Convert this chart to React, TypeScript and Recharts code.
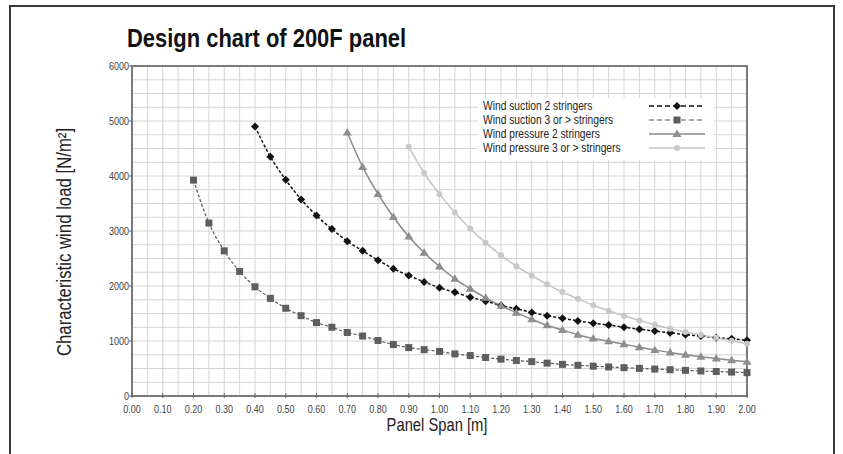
import { LineChart, Line, XAxis, YAxis, CartesianGrid, ReferenceArea, Legend } from 'recharts';

const FONT = '"Liberation Sans", Arial, sans-serif';
const SQUEEZE = 0.82; // the original uses a condensed face; squash a regular one

// panel span [m]
const spans = [
  0.2, 0.25, 0.3, 0.35, 0.4, 0.45, 0.5, 0.55, 0.6, 0.65, 0.7, 0.75, 0.8, 0.85, 0.9, 0.95, 1.0, 1.05, 1.1,
  1.15, 1.2, 1.25, 1.3, 1.35, 1.4, 1.45, 1.5, 1.55, 1.6, 1.65, 1.7, 1.75, 1.8, 1.85, 1.9, 1.95, 2.0,
];

// characteristic wind load [N/m2]
const suction2 = [
  null, null, null, null, 4900, 4350, 3930, 3575, 3280, 3035, 2815, 2640, 2470, 2315, 2190, 2075, 1970,
  1885, 1795, 1725, 1645, 1585, 1520, 1460, 1415, 1365, 1325, 1290, 1250, 1215, 1180, 1150, 1115, 1090,
  1060, 1040, 1015,
];
const suction3 = [
  3925, 3145, 2640, 2265, 1985, 1775, 1595, 1460, 1335, 1250, 1155, 1090, 1010, 935, 880, 843, 810, 765,
  735, 700, 670, 645, 625, 598, 575, 558, 542, 528, 515, 502, 490, 478, 466, 455, 445, 435, 425,
];
const pressure2 = [
  null, null, null, null, null, null, null, null, null, null, 4790, 4165, 3675, 3255, 2900, 2605, 2355,
  2130, 1950, 1785, 1640, 1515, 1395, 1285, 1200, 1115, 1045, 995, 942, 888, 838, 790, 748, 712, 680,
  652, 622,
];
const pressure3 = [
  null, null, null, null, null, null, null, null, null, null, null, null, null, null, 4530, 4055, 3670,
  3335, 3040, 2785, 2560, 2360, 2187, 2030, 1890, 1768, 1650, 1550, 1459, 1375, 1296, 1224, 1164, 1110,
  1061, 1003, 950,
];

const xTicks = [
  0, 0.05, 0.1, 0.15, 0.2, 0.25, 0.3, 0.35, 0.4, 0.45, 0.5, 0.55, 0.6, 0.65, 0.7, 0.75, 0.8, 0.85, 0.9,
  0.95, 1.0, 1.05, 1.1, 1.15, 1.2, 1.25, 1.3, 1.35, 1.4, 1.45, 1.5, 1.55, 1.6, 1.65, 1.7, 1.75, 1.8,
  1.85, 1.9, 1.95, 2.0,
];
const yTicks = [
  0, 250, 500, 750, 1000, 1250, 1500, 1750, 2000, 2250, 2500, 2750, 3000, 3250, 3500, 3750, 4000, 4250,
  4500, 4750, 5000, 5250, 5500, 5750, 6000,
];

const legendNames = [
  'Wind suction 2 stringers',
  'Wind suction 3 or > stringers',
  'Wind pressure 2 stringers',
  'Wind pressure 3 or > stringers',
];

const data = spans.map((s, i) => ({
  span: s,
  suction2: suction2[i],
  suction3: suction3[i],
  pressure2: pressure2[i],
  pressure3: pressure3[i],
}));

function marker(kind: string, cx: number, cy: number, key?: any) {
  if (kind === 'diamond')
    return <path key={key} d={`M${cx},${cy - 4}L${cx + 4},${cy}L${cx},${cy + 4}L${cx - 4},${cy}Z`} fill="#111" />;
  if (kind === 'square')
    return <rect key={key} x={cx - 3.5} y={cy - 3.5} width={7} height={7} fill="#5e5e5e" />;
  if (kind === 'triangle')
    return <path key={key} d={`M${cx},${cy - 4.5}L${cx + 4.5},${cy + 3}L${cx - 4.5},${cy + 3}Z`} fill="#8e8e8e" />;
  return <circle key={key} cx={cx} cy={cy} r={3} fill="#c8c8c8" />;
}

const makeDot = (kind: string) => (props: any) => {
  const { cx, cy, value, index } = props;
  if (value == null || cx == null || cy == null) return <g key={`e${index}`} />;
  return marker(kind, cx, cy, `d${index}`);
};

const series = [
  { key: 'suction2', kind: 'diamond', stroke: '#111', width: 1.5, dash: '3 2' },
  { key: 'suction3', kind: 'square', stroke: '#555', width: 1.2, dash: '3 2' },
  { key: 'pressure2', kind: 'triangle', stroke: '#8a8a8a', width: 1.5, dash: undefined },
  { key: 'pressure3', kind: 'circle', stroke: '#c4c4c4', width: 1.5, dash: undefined },
];

// squeezed svg text
function SText(props: any) {
  const { x, y, size, anchor = 'start', rotate, scale = SQUEEZE, fill = '#444', baseline, children } = props;
  const tf = `translate(${x},${y})${rotate ? ` rotate(${rotate})` : ''} scale(${scale},1)`;
  return (
    <g transform={tf}>
      <text x={0} y={0} textAnchor={anchor} fontSize={size} fill={fill} fontFamily={FONT} dominantBaseline={baseline}>
        {children}
      </text>
    </g>
  );
}

function XTick(props: any) {
  const { x, y, payload } = props;
  const v = payload.value as number;
  if (Math.round(v * 100) % 10 !== 0) return <g />;
  return (
    <g>
      <line x1={x} x2={x} y1={y - 3} y2={y + 2} stroke="#666" />
      <SText x={x} y={y + 17} size={11} anchor="middle">{v.toFixed(2)}</SText>
    </g>
  );
}

function YTick(props: any) {
  const { x, y, payload } = props;
  const v = payload.value as number;
  if (v % 1000 !== 0) return <g />;
  return (
    <g>
      <line x1={x - 3} x2={x} y1={y} y2={y} stroke="#666" />
      <SText x={x - 3} y={y + 4} size={11} anchor="end">{v}</SText>
    </g>
  );
}

function LegendBox() {
  return (
    <div style={{ position: 'relative', fontFamily: FONT, fontSize: 12.5, color: '#222', lineHeight: '14px', paddingTop: 1 }}>
      {series.map((s, i) => (
        <div key={s.key} style={{ position: 'relative', height: 14 }}>
          <span
            style={{
              position: 'absolute', left: 5, top: 0, whiteSpace: 'nowrap',
              transform: `scaleX(${SQUEEZE})`, transformOrigin: 'left top',
            }}
          >
            {legendNames[i]}
          </span>
          <svg width={58} height={14} style={{ position: 'absolute', left: 171, top: 0 }}>
            <line x1={0} x2={56} y1={7} y2={7} stroke={s.stroke} strokeWidth={s.width} strokeDasharray={s.dash ? '5 3' : undefined} />
            {marker(s.kind, 28, 7)}
          </svg>
        </div>
      ))}
    </div>
  );
}

export default function App() {
  return (
    <div style={{ position: 'absolute', left: 0, top: 0, width: 843, height: 454, background: '#fff', overflow: 'hidden' }}>
      <div style={{ position: 'absolute', left: 9, top: 5, width: 826, height: 470, border: '2px solid #3a3a3a', boxSizing: 'border-box' }} />
      <div
        style={{
          position: 'absolute', left: 127, top: 25, fontFamily: FONT, fontWeight: 'bold', fontSize: 25.5,
          lineHeight: '26px', color: '#111', whiteSpace: 'nowrap',
          transform: 'scaleX(0.86)', transformOrigin: 'left top',
        }}
      >
        Design chart of 200F panel
      </div>
      <div style={{ position: 'absolute', left: 0, top: 0 }}>
        <LineChart width={843} height={454} data={data} margin={{ top: 66, right: 96, bottom: 27, left: 72 }}>
          <CartesianGrid stroke="#d4d4d4" strokeWidth={1} />
          <XAxis
            dataKey="span"
            type="number"
            domain={[0, 2]}
            ticks={xTicks}
            interval={0}
            height={31}
            tickSize={0}
            tickMargin={0}
            tick={<XTick />}
            axisLine={false}
            label={{
              content: () => (
                <SText x={437} y={431} size={18} anchor="middle" fill="#222">Panel Span [m]</SText>
              ),
            }}
          />
          <YAxis
            type="number"
            domain={[0, 6000]}
            ticks={yTicks}
            interval={0}
            width={60}
            tickSize={0}
            tickMargin={0}
            tick={<YTick />}
            axisLine={false}
            label={{
              content: () => (
                <SText x={65} y={242} rotate={-90} scale={0.86} size={19.5} anchor="middle" baseline="central" fill="#222">
                  Characteristic wind load [N/m²]
                </SText>
              ),
            }}
          />
          <ReferenceArea x1={0} x2={2} y1={0} y2={6000} fill="none" stroke="#7a7a7a" strokeWidth={2} />
          {series.map((s) => (
            <Line
              key={s.key}
              dataKey={s.key}
              type="monotone"
              stroke={s.stroke}
              strokeWidth={s.width}
              strokeDasharray={s.dash}
              dot={makeDot(s.kind)}
              activeDot={false}
              isAnimationActive={false}
              connectNulls={false}
            />
          ))}
          <Legend
            layout="horizontal"
            verticalAlign="middle"
            content={() => <LegendBox />}
            wrapperStyle={{ left: 478, top: 98, width: 236, height: 62, background: '#fff' }}
          />
        </LineChart>
      </div>
    </div>
  );
}
